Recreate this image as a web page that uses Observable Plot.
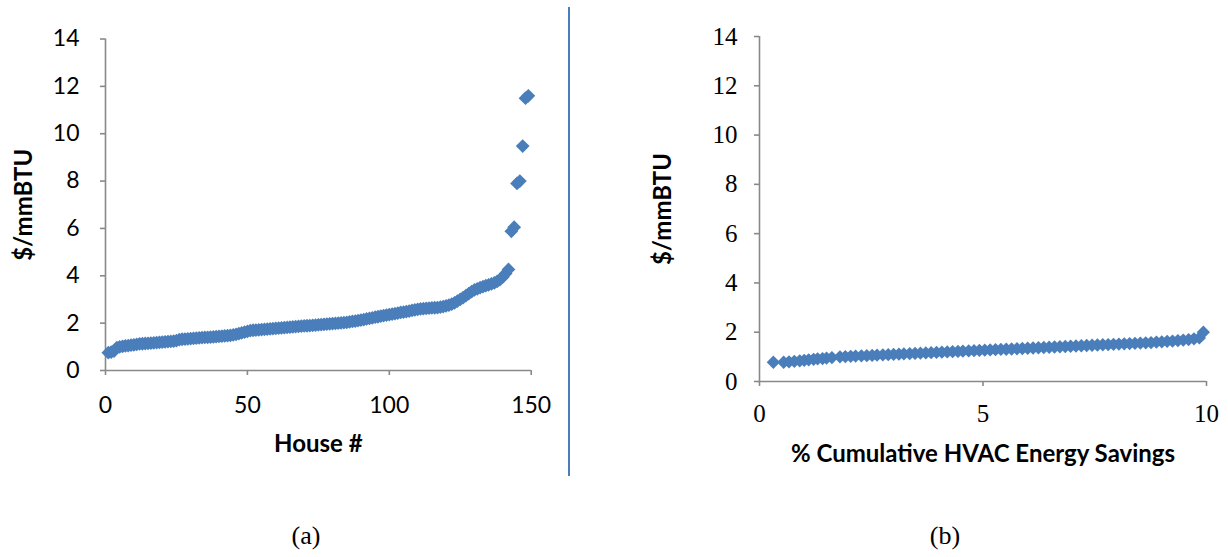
<!DOCTYPE html>
<html>
<head>
<meta charset="utf-8">
<script src="https://cdn.jsdelivr.net/npm/d3@7"></script>
<script src="https://cdn.jsdelivr.net/npm/@observablehq/plot@0.6"></script>
<style>
  html, body { margin: 0; padding: 0; background: #fff; }
  #page { position: relative; width: 1228px; height: 557px; overflow: hidden; background: #fff; }
  .panel { position: absolute; top: 0; }
  #panelA { left: 0; width: 568px; }
  #panelB { left: 569px; width: 659px; }
  #divider { position: absolute; left: 567.5px; top: 7px; width: 2px; height: 469px; background: #4a7ebb; }
  .caption { position: absolute; top: 521px; font-family: "Liberation Serif", serif; font-size: 26px; color: #000; transform: translateX(-50%); }
</style>
</head>
<body>
<div id="page">
  <div id="panelA" class="panel"></div>
  <div id="divider"></div>
  <div id="panelB" class="panel"></div>
  <div class="caption" style="left:306px">(a)</div>
  <div class="caption" style="left:945px">(b)</div>
</div>
<script>
// Cost of saved energy per house, sorted ascending ($/mmBTU)
const costA = [
  0.75, 0.78, 0.82, 0.97, 1.00, 1.02, 1.04, 1.05, 1.07, 1.08,
  1.10, 1.12, 1.13, 1.14, 1.15, 1.16, 1.17, 1.18, 1.19, 1.20,
  1.21, 1.22, 1.23, 1.24, 1.26, 1.30, 1.32, 1.33, 1.34, 1.35,
  1.36, 1.37, 1.38, 1.39, 1.40, 1.40, 1.41, 1.42, 1.43, 1.44,
  1.45, 1.46, 1.47, 1.48, 1.50, 1.53, 1.56, 1.59, 1.62, 1.65,
  1.68, 1.70, 1.71, 1.72, 1.73, 1.74, 1.75, 1.76, 1.77, 1.78,
  1.79, 1.80, 1.81, 1.82, 1.83, 1.84, 1.85, 1.86, 1.87, 1.88,
  1.89, 1.90, 1.91, 1.92, 1.93, 1.94, 1.95, 1.96, 1.97, 1.98,
  1.99, 2.00, 2.01, 2.02, 2.03, 2.05, 2.07, 2.09, 2.11, 2.13,
  2.15, 2.18, 2.20, 2.22, 2.25, 2.27, 2.30, 2.32, 2.34, 2.36,
  2.38, 2.40, 2.42, 2.45, 2.47, 2.49, 2.51, 2.54, 2.56, 2.58,
  2.60, 2.61, 2.62, 2.63, 2.64, 2.65, 2.66, 2.68, 2.70, 2.73,
  2.76, 2.80, 2.86, 2.93, 3.00, 3.08, 3.16, 3.25, 3.33, 3.40,
  3.45, 3.50, 3.54, 3.58, 3.62, 3.66, 3.70, 3.76, 3.84, 3.95,
  4.10, 4.27, 5.88, 6.05, 7.90, 8.00, 9.48, 11.50, 11.60
];
const houseNumber = costA.map((_, i) => i + 1);

// Cumulative HVAC energy savings (%) against cost ($/mmBTU)
const cumSavings = [
  0.31, 0.54, 0.66, 0.78, 0.90, 1.00, 1.10, 1.21, 1.30, 1.41,
  1.50, 1.62, 1.80, 1.92, 2.04, 2.15, 2.28, 2.40, 2.52, 2.63,
  2.76, 2.88, 3.00, 3.12, 3.23, 3.36, 3.48, 3.60, 3.72, 3.84,
  3.96, 4.08, 4.20, 4.32, 4.44, 4.55, 4.68, 4.80, 4.92, 5.04,
  5.16, 5.28, 5.40, 5.52, 5.64, 5.76, 5.88, 6.00, 6.12, 6.24,
  6.36, 6.48, 6.60, 6.72, 6.84, 6.96, 7.08, 7.20, 7.32, 7.44,
  7.56, 7.68, 7.80, 7.92, 8.04, 8.16, 8.28, 8.40, 8.52, 8.64,
  8.76, 8.88, 9.00, 9.12, 9.24, 9.36, 9.48, 9.60, 9.72, 9.84,
  9.93
];
const costB = [
  0.78, 0.78, 0.80, 0.82, 0.84, 0.86, 0.88, 0.90, 0.92, 0.93,
  0.95, 0.97, 1.00, 1.01, 1.02, 1.03, 1.04, 1.05, 1.06, 1.07,
  1.08, 1.09, 1.10, 1.11, 1.12, 1.13, 1.14, 1.15, 1.16, 1.17,
  1.18, 1.19, 1.20, 1.21, 1.22, 1.23, 1.24, 1.25, 1.26, 1.27,
  1.28, 1.29, 1.30, 1.31, 1.32, 1.33, 1.34, 1.35, 1.36, 1.37,
  1.38, 1.39, 1.40, 1.41, 1.42, 1.43, 1.44, 1.45, 1.46, 1.47,
  1.48, 1.49, 1.50, 1.51, 1.52, 1.53, 1.54, 1.55, 1.56, 1.57,
  1.58, 1.60, 1.61, 1.63, 1.64, 1.66, 1.68, 1.70, 1.73, 1.77,
  2.00
];

const xTicksA = [0, 50, 100, 150];
const xTicksB = [0, 5, 10];
const yTicks = [0, 2, 4, 6, 8, 10, 12, 14];
const yTitle = "$/mmBTU";
const xTitleA = "House #";
const xTitleB = "% Cumulative HVAC Energy Savings";

const blue = "#4a7ebb";
const axisGray = "#898989";

const rowsA = houseNumber.map((h, i) => ({x: h, y: costA[i]}));
const rowsB = cumSavings.map((s, i) => ({x: s, y: costB[i]}));

function panel({rows, width, marginLeft, marginRight, marginTop, marginBottom,
                xDomain, xTicks, tickFont, tickSize, xPad, yPad, xTitle, xTitleDy, yTitleDx, r}) {
  return Plot.plot({
    width, height: 480,
    marginLeft, marginRight, marginTop, marginBottom,
    style: {fontFamily: tickFont.family, fontSize: tickFont.size + "px", color: "#000", background: "transparent"},
    x: {domain: xDomain},
    y: {domain: [0, 14]},
    marks: [
      Plot.ruleY([0], {stroke: axisGray, strokeWidth: 1.6}),
      Plot.ruleX([xDomain[0]], {stroke: axisGray, strokeWidth: 1.6}),
      Plot.axisX({ticks: xTicks, tickSize, tickPadding: xPad, stroke: axisGray, strokeWidth: 1.6, fill: "#000", label: null, tickFormat: d => String(d)}),
      Plot.axisY({ticks: yTicks, tickSize, tickPadding: yPad, stroke: axisGray, strokeWidth: 1.6, fill: "#000", label: null, tickFormat: d => String(d)}),
      Plot.dot(rows, {x: "x", y: "y", symbol: "diamond2", r, fill: blue}),
      Plot.text([xTitle], {frameAnchor: "bottom", dy: xTitleDy, lineAnchor: "top", textAnchor: "middle",
        fontFamily: "Lato", fontWeight: "bold", fontSize: 24, fill: "#000"}),
      Plot.text([yTitle], {frameAnchor: "left", dx: yTitleDx, rotate: -90, lineAnchor: "middle", textAnchor: "middle",
        fontFamily: "Lato", fontWeight: "bold", fontSize: 24, fill: "#000"})
    ]
  });
}

document.getElementById("panelA").append(panel({
  rows: rowsA, width: 568, marginLeft: 105, marginRight: 37.3, marginTop: 38.5, marginBottom: 110,
  xDomain: [0, 150], xTicks: xTicksA, tickFont: {family: "Lato", size: 23}, tickSize: 5,
  xPad: 21, yPad: 21, xTitle: xTitleA, xTitleDy: 64, yTitleDx: -81, r: 6.2
}));

document.getElementById("panelB").append(panel({
  rows: rowsB, width: 659, marginLeft: 190, marginRight: 22, marginTop: 36, marginBottom: 99,
  xDomain: [0, 10], xTicks: xTicksB, tickFont: {family: "Liberation Serif", size: 25}, tickSize: 5,
  xPad: 18, yPad: 17, xTitle: xTitleB, xTitleDy: 63, yTitleDx: -96, r: 6
}));
</script>
</body>
</html>
